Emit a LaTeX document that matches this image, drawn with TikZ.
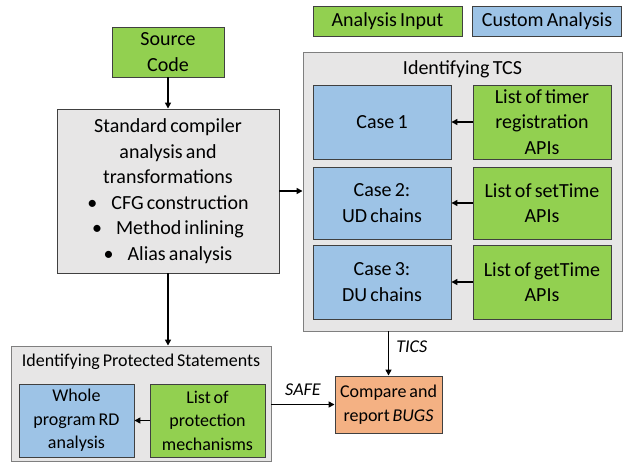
\documentclass[tikz,border=0pt]{standalone}
\usepackage{fontspec}
\setmainfont{Carlito}[WordSpace=0.7]
\usetikzlibrary{arrows.meta}
\definecolor{cgreen}{HTML}{92D050}
\definecolor{cblue}{HTML}{9DC3E6}
\definecolor{cgray}{HTML}{E7E6E6}
\definecolor{corange}{HTML}{F4B183}
\definecolor{boxline}{HTML}{404040}
\definecolor{outerline}{HTML}{7F7F7F}
\begin{document}
\begin{tikzpicture}[x=1pt,y=-1pt,
  box/.style={draw=boxline, line width=0.9pt, align=center, inner sep=0pt, font=\fontsize{20}{25.5}\selectfont},
  small/.style={font=\fontsize{18}{23.5}\selectfont},
  green/.style={box, fill=cgreen},
  blue/.style={box, fill=cblue},
  grouper/.style={draw=outerline, line width=0.9pt, fill=cgray, inner sep=0pt},
  title/.style={font=\fontsize{20}{24}\selectfont, inner sep=0pt},
  lbl/.style={font=\fontsize{18}{22}\selectfont\itshape, inner sep=0pt},
  arr/.style={-{Triangle[length=6pt,width=6pt]}, line width=1.6pt}
]
\useasboundingbox (0,0) rectangle (623,463);
% legend
\node[green, minimum width=149pt, minimum height=30pt] (leg1) at (387.5,21) {Analysis Input};
\node[blue, minimum width=149pt, minimum height=30pt] (leg2) at (547,21) {Custom Analysis};
% source
\node[green, minimum width=112pt, minimum height=50pt] (src) at (168,52) {Source\\Code};
% standard
\node[box, fill=cgray, minimum width=222pt, minimum height=164pt] (std) at (168,191)
  {Standard compiler\\analysis and\\transformations\\\textbullet\hspace{14pt}CFG construction\\\textbullet\hspace{14pt}Method inlining\\\textbullet\hspace{14pt}Alias analysis};
% TCS group
\node[grouper, minimum width=319pt, minimum height=279pt] (tcs) at (462.5,191.5) {};
\node[title] (tcstitle) at (462.5,69) {Identifying TCS};
\node[blue, minimum width=138pt, minimum height=74pt] (case1) at (382,122) {Case 1};
\node[green, minimum width=138pt, minimum height=74pt] (timer) at (542,122) {List of timer\\registration\\APIs};
\node[blue, minimum width=138pt, minimum height=72pt] (case2) at (382,203) {Case 2:\\UD chains};
\node[green, minimum width=138pt, minimum height=72pt] (settime) at (542,203) {List of setTime\\APIs};
\node[blue, minimum width=138pt, minimum height=74pt] (case3) at (382,282) {Case 3:\\DU chains};
\node[green, minimum width=138pt, minimum height=74pt] (gettime) at (542,282) {List of getTime\\APIs};
% protected group
\node[grouper, minimum width=260pt, minimum height=115pt] (prot) at (141,403.5) {};
\node[title, small] (prottitle) at (141,362) {Identifying Protected Statements};
\node[blue, small, minimum width=115pt, minimum height=73pt] (whole) at (76.5,420.5) {Whole\\program RD\\analysis};
\node[green, small, minimum width=115pt, minimum height=73pt] (plist) at (207.5,420.5) {List of\\protection\\mechanisms};
% compare
\node[box, small, fill=corange, minimum width=107pt, minimum height=57pt] (cmp) at (388.5,404.5) {Compare and\\report \textit{BUGS}};
% arrows
\draw[arr] (src.south) -- (std.north);
\draw[arr] (std.east) -- (std.east -| tcs.west);
\draw[arr] (std.south) -- (std.south |- prot.north);
\draw[arr] (timer.west) -- (case1.east);
\draw[arr] (settime.west) -- (case2.east);
\draw[arr] (gettime.west) -- (case3.east);
\draw[arr] (plist.west) -- (whole.east);
\draw[arr] (cmp.north |- tcs.south) -- node[lbl, pos=0.35, right=7pt] {TICS} (cmp.north);
\draw[arr] (prot.east |- cmp.west) -- node[lbl, above=8pt] {SAFE} (cmp.west);
\end{tikzpicture}
\end{document}
